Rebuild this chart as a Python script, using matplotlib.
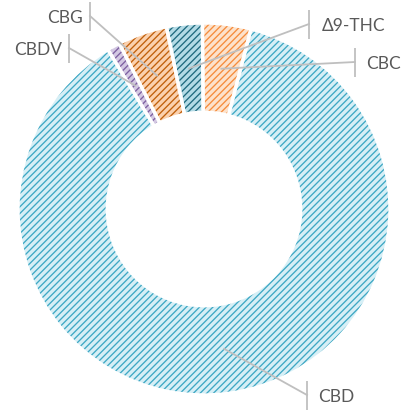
import numpy as np
import matplotlib
matplotlib.use("Agg")
import matplotlib.pyplot as plt

# data (percent shares)
labels = ["Δ9-THC", "CBC", "CBD", "CBDV", "CBG"]
values = [3.1, 4.2, 87.3, 1.1, 4.3]

# colours: background fill / hatch stripes
face_colors = ["#b3dbe6", "#fde2cb", "#d6eff6", "#d3c8e2", "#fbd1ae"]
hatch_colors = ["#1f6a7e", "#f58c3c", "#3ea8c4", "#7c5fa0", "#c0600c"]

# label layout in pixels (text anchor x, y, bar x, side)
label_pos = {
    "Δ9-THC": (322, 26, 309, "left"),
    "CBC": (366, 64, 355, "left"),
    "CBD": (318, 397, 307, "left"),
    "CBDV": (62, 50, 69, "right"),
    "CBG": (83, 18, 90, "right"),
}

W, H = 404, 412
cx, cy, R = 204, 209, 186  # pixel centre and radius of the ring


def px2d(x, y):
    return (x - cx) / R, (cy - y) / R


plt.rcParams['font.family'] = ['Lato', 'DejaVu Sans']
plt.rcParams['hatch.linewidth'] = 0.95

fig = plt.figure(figsize=(W / 100, H / 100), dpi=100)
ax = fig.add_axes([0, 0, 1, 1])

start = 90 + 11.65
wedges, _ = ax.pie(values, startangle=start, counterclock=False, radius=1.0,
                   wedgeprops=dict(width=0.48, linewidth=0))
for w, fc, hc in zip(wedges, face_colors, hatch_colors):
    w.set_facecolor(fc)
    w.set_edgecolor(hc)
    w.set_hatch("/////")
    w.set_linewidth(0)

# white separators
for w in wedges:
    ax.add_patch(matplotlib.patches.Wedge(w.center, w.r, w.theta1, w.theta2, width=w.width,
                                          facecolor="none", edgecolor="white", linewidth=2.4))

line_c = "#bfbfbf"
for w, lab in zip(wedges, labels):
    mid = np.deg2rad((w.theta1 + w.theta2) / 2)
    ex, ey = 0.76 * np.cos(mid), 0.76 * np.sin(mid)
    tx, ty, bx, side = label_pos[lab]
    bxd, byd = px2d(bx, ty - 2)
    _, btop = px2d(bx, ty - 16)
    _, bbot = px2d(bx, ty + 13)
    ax.plot([bxd, bxd], [bbot, btop], color=line_c, lw=1.3, solid_capstyle="butt")
    ax.plot([ex, bxd], [ey, byd], color=line_c, lw=1.3)
    txd, tyd = px2d(tx, ty)
    ax.text(txd, tyd, lab, ha=side, va="center", fontsize=12.5, color="#595959")

ax.set_xlim(px2d(0, 0)[0], px2d(W, 0)[0])
ax.set_ylim(px2d(0, H)[1], px2d(0, 0)[1])
ax.set_aspect("auto")
ax.axis("off")

fig.savefig("out.png", dpi=100)
